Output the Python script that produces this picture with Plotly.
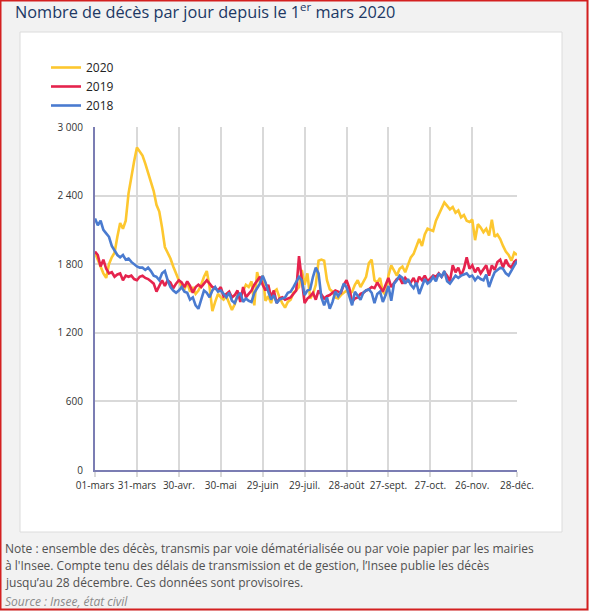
import pandas as pd
import plotly.graph_objects as go

# Daily deaths, read every 2 days from 1 March to 28 December
start_date = "2020-03-01"
step = "2D"

deaths_2020 = [
    1900, 1840, 1780, 1720, 1680, 1800, 1860, 1900, 2040, 2160,
    2110, 2180, 2420, 2580, 2700, 2820, 2790, 2750, 2680, 2600,
    2540, 2440, 2320, 2260, 2120, 1950, 1900, 1850, 1780, 1710,
    1660, 1600, 1580, 1640, 1560, 1590, 1540, 1570, 1620, 1690,
    1740, 1600, 1390, 1470, 1540, 1510, 1490, 1520, 1460, 1400,
    1450, 1530, 1510, 1560, 1620, 1600, 1650, 1440, 1730, 1640,
    1700, 1480, 1520, 1460, 1560, 1580, 1510, 1460, 1420, 1470,
    1490, 1550, 1580, 1600, 1750, 1620, 1720, 1500, 1540, 1620,
    1830, 1840, 1830, 1660, 1580, 1560, 1510, 1500, 1530, 1550,
    1570, 1540, 1560, 1620, 1660, 1600, 1650, 1690, 1810, 1840,
    1660, 1640, 1680, 1560, 1530, 1700, 1790, 1740, 1700, 1760,
    1780, 1730, 1800, 1860, 1890, 1960, 2020, 1960, 2060, 2110,
    2100, 2090, 2180, 2230, 2280, 2340, 2310, 2280, 2300, 2250,
    2270, 2210, 2230, 2180, 2170, 2190, 2010, 2150, 2120, 2080,
    2110, 2050, 2190, 2040, 2060, 2020, 1960, 1910, 1880, 1830,
    1900, 1880,
]

deaths_2019 = [
    1910, 1880, 1780, 1840, 1760, 1720, 1730, 1690, 1710, 1720,
    1660, 1700, 1690, 1700, 1670, 1660, 1690, 1700, 1680, 1670,
    1650, 1630, 1560, 1610, 1660, 1610, 1660, 1640, 1590, 1630,
    1660, 1640, 1600, 1650, 1610, 1550, 1600, 1620, 1600, 1630,
    1660, 1630, 1600, 1590, 1570, 1600, 1520, 1540, 1560, 1510,
    1530, 1570, 1470, 1600, 1510, 1540, 1570, 1620, 1660, 1690,
    1620, 1570, 1620, 1510, 1570, 1460, 1500, 1510, 1490, 1500,
    1510, 1540, 1570, 1870, 1640, 1460, 1500, 1520, 1550, 1490,
    1570, 1540, 1500, 1520, 1530, 1550, 1570, 1560, 1550, 1620,
    1660, 1590, 1470, 1500, 1510, 1540, 1550, 1570, 1580, 1600,
    1590, 1640, 1600, 1560, 1620, 1680, 1600, 1640, 1670, 1680,
    1630, 1680, 1650, 1640, 1680, 1620, 1690, 1660, 1700, 1650,
    1680, 1700, 1690, 1720, 1690, 1730, 1700, 1650, 1790, 1730,
    1770, 1700, 1760, 1860, 1760, 1790, 1730, 1770, 1720, 1760,
    1790, 1700, 1790, 1750, 1820, 1840, 1770, 1840, 1790, 1770,
    1820, 1840,
]

deaths_2018 = [
    2200, 2140, 2180, 2100, 2070, 2040, 1960, 1920, 1880, 1860,
    1880, 1840, 1850, 1820, 1800, 1780, 1770, 1770, 1750, 1770,
    1740, 1700, 1690, 1660, 1720, 1740, 1660, 1600, 1570, 1550,
    1570, 1600, 1560, 1550, 1490, 1510, 1440, 1410, 1490, 1570,
    1550, 1510, 1570, 1600, 1560, 1570, 1540, 1510, 1550, 1480,
    1460, 1520, 1550, 1470, 1500, 1480, 1470, 1550, 1590, 1630,
    1700, 1640, 1560, 1490, 1530, 1460, 1490, 1500, 1510, 1550,
    1560, 1600, 1650, 1690, 1660, 1530, 1570, 1580, 1690, 1770,
    1720, 1510, 1440, 1510, 1410, 1470, 1560, 1520, 1560, 1630,
    1600, 1520, 1440, 1560, 1520, 1490, 1550, 1570, 1580, 1550,
    1460, 1540, 1560, 1470, 1530, 1610, 1480, 1630, 1660, 1700,
    1680, 1630, 1670, 1620, 1590, 1640, 1540, 1610, 1670, 1630,
    1650, 1690, 1650, 1720, 1690, 1740, 1650, 1630, 1660, 1700,
    1680, 1700, 1710, 1720, 1690, 1700, 1660, 1690, 1670, 1660,
    1710, 1600, 1670, 1730, 1750, 1770, 1760, 1720, 1700, 1740,
    1790, 1830,
]

series_names = ["2020", "2019", "2018"]
series_colors = ["#FDC72F", "#E5234D", "#4A7BD0"]

x_tick_dates = ["2020-03-01", "2020-03-31", "2020-04-30", "2020-05-30", "2020-06-29",
                "2020-07-29", "2020-08-28", "2020-09-27", "2020-10-27", "2020-11-26",
                "2020-12-28"]
x_tick_labels = ["01-mars", "31-mars", "30-avr.", "30-mai", "29-juin", "29-juil.",
                 "28-août", "27-sept.", "27-oct.", "26-nov.", "28-déc."]
y_tick_values = [0, 600, 1200, 1800, 2400, 3000]
y_tick_labels = ["0", "600", "1 200", "1 800", "2 400", "3 000"]

title_text = "Nombre de décès par jour depuis le 1<sup>er</sup> mars 2020"
note_lines = [
    "Note : ensemble des décès, transmis par voie dématérialisée ou par voie papier par les mairies",
    "à l'Insee. Compte tenu des délais de transmission et de gestion, l’Insee publie les décès",
    "jusqu’au 28 décembre. Ces données sont provisoires.",
]
source_text = "Source : Insee, état civil"

W, H = 589, 611
L, R, T, B = 95, 517, 127, 470  # plot area in pixels


def px_x(p):
    return (p - L) / (R - L)


def px_y(p):
    return (B - p) / (B - T)


fig = go.Figure()
for name, vals, col in zip(series_names, [deaths_2020, deaths_2019, deaths_2018], series_colors):
    dates = pd.date_range(start_date, periods=len(vals), freq=step)
    fig.add_trace(go.Scatter(x=dates, y=vals, mode="lines", name=name,
                             line=dict(color=col, width=2.6), hoverinfo="x+y+name"))

shapes = [
    # outer red frame
    dict(type="rect", xref="paper", yref="paper", x0=px_x(0.5), x1=px_x(W - 1.5),
         y0=px_y(H - 1.5), y1=px_y(0.5), line=dict(color="#D42020", width=2),
         fillcolor="rgba(0,0,0,0)", layer="above"),
    # white panel
    dict(type="rect", xref="paper", yref="paper", x0=px_x(20), x1=px_x(562),
         y0=px_y(532), y1=px_y(32), line=dict(color="#DCDCDC", width=1),
         fillcolor="white", layer="below"),
]

annotations = [
    dict(text=title_text, xref="paper", yref="paper", x=px_x(13), y=px_y(25),
         xanchor="left", yanchor="bottom", showarrow=False,
         font=dict(family="Open Sans", size=16.3, color="#203864")),
]
for i, line in enumerate(note_lines):
    annotations.append(dict(text=line, xref="paper", yref="paper", x=px_x(3),
                            y=px_y(548 + 17 * i), xanchor="left", yanchor="middle",
                            showarrow=False,
                            font=dict(family="Open Sans", size=12, color="#505050")))
annotations.append(dict(text="<i>" + source_text + "</i>", xref="paper", yref="paper",
                        x=px_x(3), y=px_y(601), xanchor="left", yanchor="middle",
                        showarrow=False,
                        font=dict(family="Open Sans", size=12, color="#8a8a8a")))

fig.update_layout(
    width=W, height=H,
    margin=dict(l=L, r=W - R, t=T, b=H - B, pad=0),
    paper_bgcolor="#F2F2F2",
    plot_bgcolor="white",
    font=dict(family="Open Sans", color="#333333"),
    shapes=shapes,
    annotations=annotations,
    showlegend=True,
    legend=dict(x=px_x(46), y=px_y(53), xanchor="left", yanchor="top",
                bgcolor="rgba(0,0,0,0)", font=dict(size=12, color="#222222"),
                itemwidth=30, tracegroupgap=0),
    xaxis=dict(
        type="date",
        range=[x_tick_dates[0], x_tick_dates[-1]],
        tickmode="array", tickvals=x_tick_dates, ticktext=x_tick_labels,
        tickfont=dict(size=10, color="#333333"),
        showgrid=True, gridcolor="#D9D9D9", gridwidth=1.5,
        showline=True, linecolor="#7B7DB3", linewidth=2,
        ticks="outside", ticklen=5, tickcolor="#D9D9D9", tickwidth=1.5,
        zeroline=False, fixedrange=True,
    ),
    yaxis=dict(
        range=[0, 3000],
        tickmode="array", tickvals=y_tick_values, ticktext=y_tick_labels,
        tickfont=dict(size=10, color="#333333"),
        showgrid=True, gridcolor="#D9D9D9", gridwidth=1.5,
        showline=True, linecolor="#7B7DB3", linewidth=2,
        ticks="", ticklabelstandoff=8,
        zeroline=False, fixedrange=True,
    ),
)

fig.write_html("out.html", config={"displayModeBar": False},
               post_script="document.body.style.margin='0';document.body.style.overflow='hidden';")
